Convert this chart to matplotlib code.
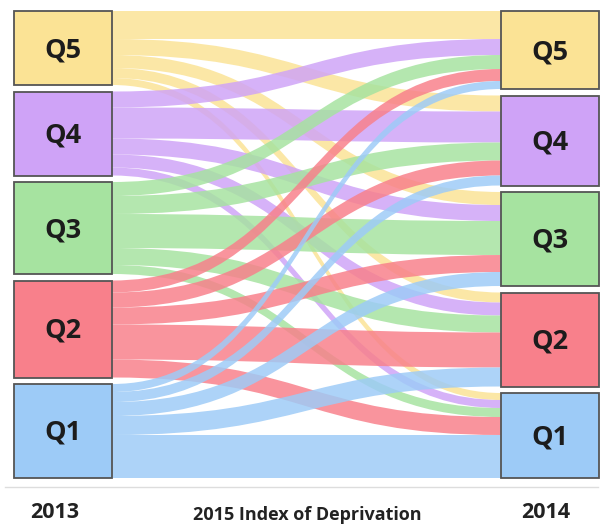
import matplotlib
matplotlib.use("Agg")
import matplotlib.pyplot as plt
from matplotlib.path import Path
from matplotlib.patches import PathPatch, Rectangle

# ---- data ----
categories = ["Q5", "Q4", "Q3", "Q2", "Q1"]          # top to bottom
year_left = "2013"
year_right = "2014"
title = "2015 Index of Deprivation"
# flows[i][j]: from 2013 category i to 2014 category j
flows = [
    [28, 16, 13, 10, 7],
    [16, 31, 16, 13, 8],
    [14, 18, 34, 17, 9],
    [12, 15, 17, 35, 18],
    [8, 10, 14, 19, 43],
]
colors = ["#FBE395", "#CFA3F7", "#A6E3A0", "#F8808B", "#9DCBF7"]

# ---- layout ----
W, H = 601, 524
fig = plt.figure(figsize=(W / 100, H / 100), dpi=100)
ax = fig.add_axes([0, 0, 1, 1])
ax.set_xlim(0, W)
ax.set_ylim(H, 0)
ax.axis("off")

top, bottom = 11, 478
lx0, lx1 = 14, 112
rx0, rx1 = 501, 599
n = len(categories)
left_tot = [sum(r) for r in flows]
right_tot = [sum(flows[i][j] for i in range(n)) for j in range(n)]

def node_positions(tots):
    gap = (bottom - top - sum(tots)) / (n - 1)
    pos, y = [], top
    for t in tots:
        pos.append((y, y + t))
        y += t + gap
    return pos

lpos = node_positions(left_tot)
rpos = node_positions(right_tot)

lcur = [p[0] for p in lpos]
rcur = [p[0] for p in rpos]
segs = []
for i in range(n):
    for j in range(n):
        v = flows[i][j]
        segs.append((i, j, lcur[i], lcur[i] + v))
        lcur[i] += v
rstart = {}
for j in range(n):
    for i in range(n):
        v = flows[i][j]
        rstart[(i, j)] = (rcur[j], rcur[j] + v)
        rcur[j] += v

xa, xb = lx1, rx0
dx = (xb - xa) * 0.5
for (i, j, y0t, y0b) in segs:
    y1t, y1b = rstart[(i, j)]
    verts = [
        (xa, y0t), (xa + dx, y0t), (xb - dx, y1t), (xb, y1t),
        (xb, y1b),
        (xb - dx, y1b), (xa + dx, y0b), (xa, y0b),
        (xa, y0t),
    ]
    codes = [Path.MOVETO, Path.CURVE4, Path.CURVE4, Path.CURVE4,
             Path.LINETO,
             Path.CURVE4, Path.CURVE4, Path.CURVE4,
             Path.CLOSEPOLY]
    ax.add_patch(PathPatch(Path(verts, codes), facecolor=colors[i],
                           edgecolor="none", alpha=0.84, zorder=2))

for k in range(n):
    for (x0, x1, pos) in ((lx0, lx1, lpos), (rx0, rx1, rpos)):
        y0, y1 = pos[k]
        ax.add_patch(Rectangle((x0, y0), x1 - x0, y1 - y0, facecolor=colors[k],
                               edgecolor="#555555", linewidth=1.3, zorder=3))
        ax.text((x0 + x1) / 2, (y0 + y1) / 2 + 2, categories[k], ha="center",
                va="center", fontsize=19.5, fontweight="bold", color="#1c1c1c",
                family="Open Sans", zorder=4)

ax.plot([5, 598], [487, 487], color="#dddddd", linewidth=1, zorder=1)

ax.text(55, 513, year_left, ha="center", va="center", fontsize=15.5,
        fontweight="bold", color="#222222", family="Open Sans")
ax.text(546, 513, year_right, ha="center", va="center", fontsize=15.5,
        fontweight="bold", color="#222222", family="Open Sans")
ax.text(307, 515, title, ha="center", va="center", fontsize=13,
        fontweight="bold", color="#222222", family="Open Sans")

fig.savefig("out.png", dpi=100)
